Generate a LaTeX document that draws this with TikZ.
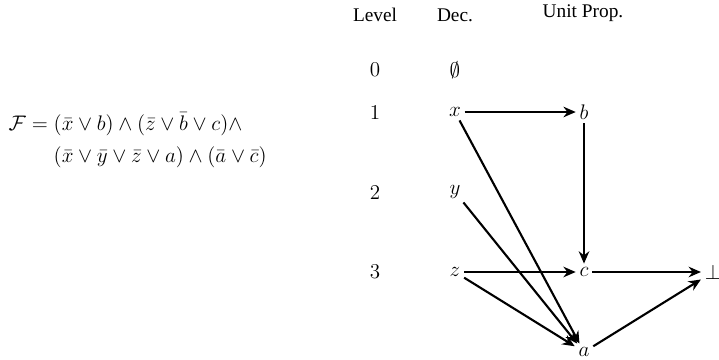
\documentclass[tikz,border=0pt]{standalone}
\usepackage{amsmath}
\usepackage{fontspec}
\newfontfamily\hdfont{Liberation Serif}
\usetikzlibrary{arrows.meta}

\begin{document}
\begin{tikzpicture}[>={Stealth[length=7pt,width=6pt]},
 hd/.style={font=\hdfont\fontsize{11}{13}\selectfont},
 lvl/.style={font=\large},
 lit/.style={font=\large,inner sep=2pt},
 imp/.style={very thick,->}]
\useasboundingbox (0,0) rectangle (14.38,7.18);
\node[anchor=west,font=\fontsize{12.4}{15}\selectfont] (form) at (0.05,4.36) {$\begin{aligned}\mathcal{F} = {}&(\bar{x}\vee b)\wedge(\bar{z}\vee\bar{b}\vee c)\wedge\\
 &(\bar{x}\vee\bar{y}\vee\bar{z}\vee a)\wedge(\bar{a}\vee\bar{c})\end{aligned}$};
\node[hd] (lvl) at (7.50,6.88) {Level};
\node[hd] (dec) at (9.10,6.88) {Dec.};
\node[hd] (up) at (11.66,6.92) {Unit Prop.};
\node[lvl] (l0) at (7.50,5.78) {0};
\node[lvl] (l1) at (7.50,4.94) {1};
\node[lvl] (l2) at (7.50,3.34) {2};
\node[lvl] (l3) at (7.50,1.74) {3};
\node[lit] (d0) at (9.10,5.78) {$\emptyset$};
\node[lit] (x) at (9.10,4.94) {$x$};
\node[lit] (y) at (9.10,3.34) {$y$};
\node[lit] (z) at (9.10,1.74) {$z$};
\node[lit] (b) at (11.68,4.94) {$b$};
\node[lit] (c) at (11.68,1.74) {$c$};
\node[lit] (a) at (11.68,0.14) {$a$};
\node[lit] (bot) at (14.26,1.74) {$\bot$};
\foreach \s/\t in {x/b,b/c,x/a,y/a,z/c,z/a,c/bot,a/bot}{\draw[imp] (\s)--(\t);}
\end{tikzpicture}
\end{document}
